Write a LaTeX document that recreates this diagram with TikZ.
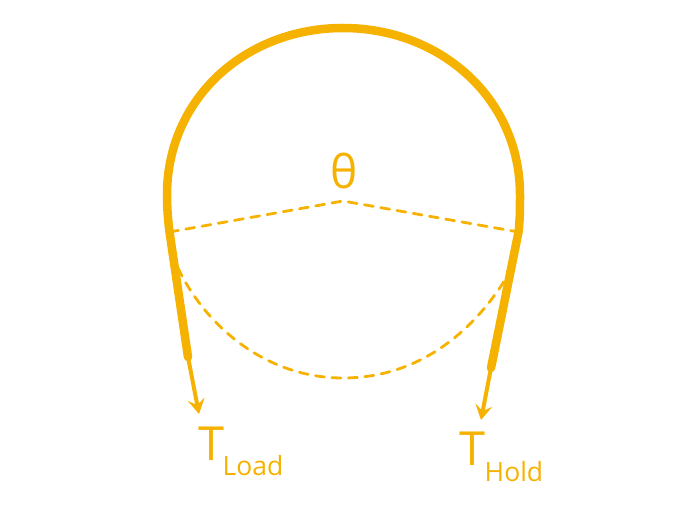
\documentclass[tikz,border=0pt]{standalone}
\usepackage{fontspec}
\setmainfont{Open Sans}
\definecolor{amber}{RGB}{245,178,0}
\usetikzlibrary{arrows.meta}
\tikzset{
  belt/.style={draw=amber,line width=8.5pt,line cap=round,line join=round},
  tail/.style={draw=amber,line width=4pt,-{Stealth[length=15pt,width=17pt,inset=6pt]}},
  guide/.style={draw=amber,line width=2.8pt,dash pattern=on 9pt off 7.5pt,line cap=round},
  big/.style={text=amber,inner sep=0pt,font=\fontsize{47}{47}\selectfont},
  small/.style={text=amber,inner sep=0pt,font=\fontsize{26.5}{26.5}\selectfont}
}
\begin{document}
\begin{tikzpicture}[x=1pt,y=-1pt]
\useasboundingbox (0,0) rectangle (699,510);
\coordinate (centre) at (343,201);
\coordinate (bl) at (169.5,232);
\coordinate (br) at (518.5,232);
\coordinate (el) at (188,357);
\coordinate (er) at (491,368);
\coordinate (tl) at (199,414);
\coordinate (tr) at (481,420);
\coordinate (al) at (178,268);
\coordinate (ar) at (508,275);
\draw[belt] (el) -- (bl) .. controls (168,220) and (167,208) .. (167,195) .. controls (167,98) and (246,28) .. (343,28) .. controls (440,28) and (520,98) .. (520,195) .. controls (520,208) and (520,220) .. (br) -- (er);
\draw[tail] (el) -- (tl);
\draw[tail] (er) -- (tr);
\draw[guide] (bl) -- (centre) -- (br);
\draw[guide] (al) .. controls (205,325) and (265,378) .. (343,378) .. controls (420,378) and (475,330) .. (ar);
\node[big,font=\fontsize{46}{46}\selectfont] (theta) at (344,171) {θ};
\node[big] (tload) at (211,444) {T};
\node[small,anchor=base west] (load) at (222.5,475.5) {Load};
\node[big] (thold) at (472,449) {T};
\node[small,anchor=base west] (hold) at (484.5,481) {Hold};
\end{tikzpicture}
\end{document}
